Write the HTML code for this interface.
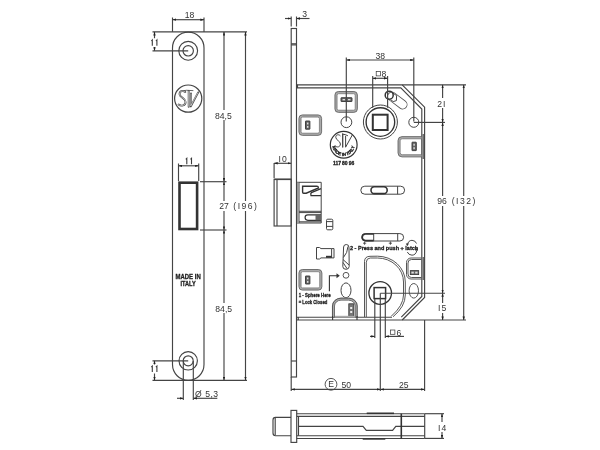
<!DOCTYPE html>
<html><head><meta charset="utf-8">
<style>
html,body{margin:0;padding:0;background:#fff;width:600px;height:450px;overflow:hidden}
svg{display:block;will-change:transform}
text{font-family:"Liberation Sans",sans-serif;fill:#333}
.d{font-size:8.6px}
.b{font-weight:bold;fill:#222;stroke:#222;stroke-width:0.3}
</style></head><body>
<svg width="600" height="450" viewBox="0 0 600 450">
<defs>
<marker id="a" viewBox="0 0 6 4" refX="6" refY="2" markerWidth="3.6" markerHeight="2.5" orient="auto-start-reverse" markerUnits="userSpaceOnUse"><path d="M0,0 L6,2 L0,4 Z" fill="#222"/></marker>
</defs>
<rect width="600" height="450" fill="#fff"/>

<!-- ============ LEFT FACEPLATE VIEW ============ -->
<g fill="none" stroke="#444" stroke-width="1.15">
  <path d="M172.5,47.9 A15.75,15.75 0 0 1 204,47.9 L204,364.6 A15.75,15.75 0 0 1 172.5,364.6 Z"/>
  <circle cx="188.2" cy="50.8" r="9.4"/>
  <circle cx="188.2" cy="50.8" r="5.2"/>
  <circle cx="188.2" cy="360.8" r="9.2"/>
  <circle cx="188.2" cy="360.8" r="5"/>
  <circle cx="188.2" cy="98.6" r="13.6" stroke-width="1.2"/>
</g>
<rect x="179.5" y="182.7" width="17.6" height="46.3" fill="none" stroke="#333" stroke-width="2.6"/>
<g fill="none" stroke-linecap="round" stroke-linejoin="round">
  <g stroke="#4a4a4a" stroke-width="1.9">
    <path d="M185.3,92 C183.5,90.3 179.2,90.8 179.6,94.4 C180,97.6 185.6,98.2 185.6,102 C185.6,105.6 181,106.6 178.6,104.6"/>
    <path d="M188.7,91 V106.8"/>
    <path d="M191,93.5 L190.8,106.4 L198.2,92.4"/>
  </g>
  <path d="M180.6,91.2 Q186,89.6 193,90.6" stroke="#555" stroke-width="0.9"/>
  <g stroke="#fff" stroke-width="0.6">
    <path d="M185.3,92 C183.5,90.3 179.2,90.8 179.6,94.4 C180,97.6 185.6,98.2 185.6,102 C185.6,105.6 181,106.6 178.6,104.6"/>
    <path d="M188.7,91.5 V106.3"/>
    <path d="M191,94 L190.8,105.9 L197.8,92.8"/>
  </g>
</g>
<text class="b" x="175.5" y="278.9" font-size="7" stroke-width="0.35" textLength="25.2" lengthAdjust="spacingAndGlyphs">MADE IN</text>
<text class="b" x="180.5" y="285.7" font-size="7" stroke-width="0.35" textLength="15.2" lengthAdjust="spacingAndGlyphs">ITALY</text>

<!-- dims left -->
<g fill="none" stroke="#444" stroke-width="1.15">
  <line x1="152.5" y1="31.9" x2="247" y2="31.9"/>
  <line x1="152.5" y1="380.3" x2="247" y2="380.3"/>
  <line x1="172.5" y1="31.9" x2="172.5" y2="17.5"/>
  <line x1="204" y1="31.9" x2="204" y2="17.5"/>
  <line x1="172.5" y1="19.7" x2="204" y2="19.7" marker-start="url(#a)" marker-end="url(#a)"/>
  <line x1="152.5" y1="50.8" x2="188.2" y2="50.8"/>
  <line x1="154.5" y1="31.9" x2="154.5" y2="50.8" marker-start="url(#a)" marker-end="url(#a)"/>
  <line x1="152.5" y1="360.8" x2="188.2" y2="360.8"/>
  <line x1="154.5" y1="360.8" x2="154.5" y2="380.3" marker-start="url(#a)" marker-end="url(#a)"/>
  <line x1="224" y1="31.9" x2="224" y2="181.7" marker-start="url(#a)" marker-end="url(#a)"/>
  <line x1="224" y1="181.7" x2="224" y2="230" marker-start="url(#a)" marker-end="url(#a)"/>
  <line x1="224" y1="230" x2="224" y2="380.3" marker-start="url(#a)" marker-end="url(#a)"/>
  <line x1="245.5" y1="31.9" x2="245.5" y2="380.3" marker-start="url(#a)" marker-end="url(#a)"/>
  <line x1="200" y1="181.7" x2="226.5" y2="181.7"/>
  <line x1="200" y1="230" x2="226.5" y2="230"/>
  <line x1="178.5" y1="181" x2="178.5" y2="163.5"/>
  <line x1="198.7" y1="181" x2="198.7" y2="163.5"/>
  <line x1="178.5" y1="165.8" x2="198.7" y2="165.8" marker-start="url(#a)" marker-end="url(#a)"/>
  <line x1="183.3" y1="361" x2="183.3" y2="400"/>
  <line x1="193.3" y1="361" x2="193.3" y2="400"/>
  <line x1="177" y1="398.3" x2="183.3" y2="398.3" marker-end="url(#a)"/>
  <line x1="217.3" y1="398.3" x2="193.3" y2="398.3" marker-end="url(#a)"/>
</g>
<g class="d">
  <rect x="150" y="38.2" width="9" height="8.8" fill="#fff"/>
  <text x="189.5" y="18" text-anchor="middle">18</text>
  <rect x="214" y="110" width="20" height="10" fill="#fff"/>
  <text x="223.4" y="118.5" text-anchor="middle">84,5</text>
  <rect x="217" y="201" width="42" height="10" fill="#fff"/>
  <text x="224" y="208.9" text-anchor="middle">27</text>
  <text x="245.9" y="208.9" text-anchor="middle" letter-spacing="1.5">(I96)</text>
  <rect x="214" y="303" width="20" height="10" fill="#fff"/>
  <text x="223.7" y="311.5" text-anchor="middle">84,5</text>
  <rect x="150" y="364.5" width="9" height="9" fill="#fff"/>
  <text x="195" y="397">Ø</text>
  <text x="205.3" y="397" letter-spacing="0.4">5,3</text>
</g>

<path d="M151.3,41.0 L152.3,39.9 V45.8 M155.9,41.0 L156.9,39.9 V45.8" fill="none" stroke="#3a3a3a" stroke-width="1.1"/>
<path d="M151.3,367.2 L152.3,366.1 V372.1 M155.9,367.2 L156.9,366.1 V372.1" fill="none" stroke="#3a3a3a" stroke-width="1.1"/>
<path d="M185.8,159.4 L186.8,158.3 V164.3 M190.5,159.4 L191.5,158.3 V164.3" fill="none" stroke="#3a3a3a" stroke-width="1.1"/>
<!-- ============ MIDDLE: SIDE VIEW ============ -->
<!-- faceplate side -->
<g fill="none" stroke="#444" stroke-width="1.15">
  <rect x="291.2" y="28.5" width="5.3" height="348.5"/>
  <line x1="291.2" y1="43.8" x2="296.5" y2="43.8"/>
  <line x1="291.2" y1="44.9" x2="296.5" y2="44.9"/>
  <line x1="291.2" y1="361" x2="296.5" y2="361"/>
</g>
<!-- latch protruding -->
<g fill="none" stroke="#444" stroke-width="1.15">
  <rect x="274.1" y="179.2" width="17.1" height="46.8"/>
  <line x1="277" y1="179.2" x2="277" y2="226"/>
  <line x1="274.1" y1="179.4" x2="291.2" y2="179.4" stroke-width="1.4"/>
</g>
<!-- lock body outline -->
<g fill="none" stroke="#444" stroke-width="1.15">
  <line x1="296.5" y1="84.8" x2="466" y2="84.8"/>
  <line x1="296.5" y1="320" x2="466" y2="320"/>
  <path d="M402.2,84.8 L424.6,107.2 L424.6,297.4 L402.2,320"/>
  <path d="M297.5,84.8 L297.5,87.9 L400.8,87.9 L421.8,109 L421.8,296.5 L401.3,317.2"/>
  <line x1="296.5" y1="317.2" x2="392" y2="317.2"/>
  <line x1="423.2" y1="134" x2="423.2" y2="159"/>
  <line x1="423.2" y1="257" x2="423.2" y2="280"/>
</g>
<!-- upper rounded rects -->
<g fill="none">
  <rect x="336.0" y="92.6" width="20.3" height="18.7" rx="2.5" stroke="#aaa" stroke-width="2"/>
  <rect x="334.9" y="91.5" width="22.5" height="20.9" rx="3.5" stroke="#555" stroke-width="0.8"/>
  <rect x="337.1" y="93.7" width="18.1" height="16.5" rx="1.5" stroke="#666" stroke-width="0.7"/>
  <rect x="300.0" y="116.0" width="20.5" height="18.3" rx="2.5" stroke="#aaa" stroke-width="2"/>
  <rect x="298.9" y="114.9" width="22.7" height="20.5" rx="3.5" stroke="#555" stroke-width="0.8"/>
  <rect x="301.1" y="117.1" width="18.3" height="16.1" rx="1.5" stroke="#666" stroke-width="0.7"/>
  <rect x="300.0" y="270.6" width="20.8" height="18.4" rx="2.5" stroke="#aaa" stroke-width="2"/>
  <rect x="298.9" y="269.5" width="23.0" height="20.6" rx="3.5" stroke="#555" stroke-width="0.8"/>
  <rect x="301.1" y="271.7" width="18.6" height="16.2" rx="1.5" stroke="#666" stroke-width="0.7"/>
</g>
<g fill="none">
  <path d="M421.5,137.7 H402 A3,3 0 0 0 399,140.7 V152.8 A3,3 0 0 0 402,155.8 H421.5" stroke="#aaa" stroke-width="2"/>
  <path d="M421.5,136.6 H402 A4,4 0 0 0 398,140.6 V152.9 A4,4 0 0 0 402,156.9 H421.5" stroke="#555" stroke-width="0.8"/>
  <path d="M421.5,138.8 H402.3 A2,2 0 0 0 400.2,140.8 V152.7 A2,2 0 0 0 402.3,154.7 H421.5" stroke="#666" stroke-width="0.7"/>
</g>
<g fill="#666" stroke="#333" stroke-width="0.9">
  <rect x="341" y="97.7" width="11" height="3.8" rx="0.3"/>
  <rect x="305.5" y="121" width="4.4" height="8.2" rx="0.3"/>
  <rect x="412" y="142.2" width="4.3" height="8.4" rx="0.3"/>
  <rect x="305.5" y="276" width="4.4" height="8" rx="0.3"/>
</g>
<g fill="#ddd">
  <rect x="342.6" y="99" width="2.4" height="1.3"/><rect x="348" y="99" width="2.4" height="1.3"/>
  <rect x="307" y="122.6" width="1.4" height="1.8"/><rect x="307" y="126" width="1.4" height="1.8"/>
  <rect x="413.4" y="143.8" width="1.4" height="1.9"/><rect x="413.4" y="147.2" width="1.4" height="1.9"/>
  <rect x="307" y="277.5" width="1.4" height="1.8"/><rect x="307" y="281" width="1.4" height="1.8"/>
</g>
<!-- holes -->
<g fill="none" stroke="#444" stroke-width="1">
  <circle cx="346.4" cy="122.2" r="5.4"/>
  <circle cx="413.8" cy="122.3" r="5"/>
</g>
<!-- spindle -->
<g fill="none" stroke="#444">
  <circle cx="380.4" cy="122" r="17" stroke-width="1"/>
  <circle cx="380.4" cy="122" r="14.3" stroke-width="1.35" stroke="#333"/>
  <rect x="372.8" y="114.7" width="14.8" height="15.3" stroke-width="2" stroke="#333"/>
</g>
<!-- lever top -->
<line x1="392" y1="96.5" x2="402.7" y2="104.6" stroke="#555" stroke-width="9.6" stroke-linecap="round"/>
<line x1="392" y1="96.5" x2="402.7" y2="104.6" stroke="#fff" stroke-width="7.9" stroke-linecap="round"/>
<path d="M392.6,92.8 L396.6,95.6 L396.4,100.6 L393.2,101.6 L390.6,99.6" fill="none" stroke="#444" stroke-width="1"/>
<circle cx="389.2" cy="95.2" r="4" fill="none" stroke="#333" stroke-width="1.5"/>
<!-- SIV logo in lock -->
<circle cx="343.7" cy="144.8" r="13.4" fill="none" stroke="#333" stroke-width="1.2"/>
<g fill="none" stroke="#444" stroke-width="1" stroke-linecap="round">
  <path d="M340.2,135.6 C339,134.1 335.6,134.3 335.8,137.4 C336,140.4 340.4,140.9 340.4,144 C340.4,147.1 337,147.7 335.6,146.3"/>
  <path d="M342.7,133.8 V147" stroke-width="1.3"/>
  <path d="M342.7,134.2 Q345.5,134.2 347.6,135.6"/>
  <path d="M345.6,136.2 L345.6,147.2 L352.2,135.2"/>
</g>
<path id="arcb" d="M332.4,144.9 A11.1,11.1 0 0 0 354.6,144.9" fill="none"/>
<text class="b" font-size="4.4" letter-spacing="0"><textPath href="#arcb" startOffset="50%" text-anchor="middle" textLength="32" lengthAdjust="spacingAndGlyphs">MADE IN ITALY</textPath></text>
<text class="b" x="343.6" y="165.1" text-anchor="middle" font-size="5" letter-spacing="-0.1">117 80 96</text>

<!-- latch block inside lock -->
<g fill="none" stroke="#444" stroke-width="1">
  <path d="M296.8,182.3 H321.2 V223 H296.8"/>
  <line x1="299" y1="182.3" x2="299" y2="223"/>
  <line x1="299" y1="211.3" x2="321.2" y2="211.3"/>
  <line x1="299" y1="212.6" x2="321.2" y2="212.6"/>
  <line x1="299" y1="221.8" x2="321.2" y2="221.8"/>
</g>
<rect x="297" y="182.5" width="2" height="40.3" fill="#999"/>
<path d="M302.6,186.3 H316.8 Q318.4,186.3 318.4,188 L306.2,193.2 H303.6 Q302.6,193.2 302.6,192 Z" fill="none" stroke="#333" stroke-width="1.4"/>
<path d="M321,188.6 L311.4,192.6 Q310.4,193.2 311,195.6 H321" fill="none" stroke="#333" stroke-width="1.3"/>
<path d="M321,214.9 H307.8 A2.7,2.7 0 0 0 307.8,220.3 H321" fill="none" stroke="#333" stroke-width="1.2"/>
<rect x="315.5" y="214.9" width="5.5" height="5.4" fill="#666"/>
<rect x="326.5" y="219.2" width="6.3" height="10.6" rx="1.2" fill="none" stroke="#444" stroke-width="1"/>
<line x1="326.5" y1="221.6" x2="332.8" y2="221.6" stroke="#444" stroke-width="1"/>
<line x1="326.5" y1="226.4" x2="332.8" y2="226.4" stroke="#444" stroke-width="1"/>

<!-- slots -->
<g fill="none" stroke="#444" stroke-width="1">
  <rect x="360.8" y="186.2" width="43.8" height="8" rx="4"/>
  <line x1="397.6" y1="186.2" x2="397.6" y2="194.2"/>
  <rect x="361.8" y="233.6" width="41.8" height="7.4" rx="3.7"/>
  <line x1="373.7" y1="233.6" x2="373.7" y2="241"/>
  <line x1="397.7" y1="233.6" x2="397.7" y2="241"/>
</g>
<rect x="371" y="186.8" width="16.2" height="6.8" rx="3.4" fill="none" stroke="#333" stroke-width="1.6"/>
<path d="M373.7,234 H365.5 A3.3,3.3 0 0 0 365.5,240.6 H373.7" fill="none" stroke="#333" stroke-width="1.6"/>

<!-- press text -->
<text class="b" x="350" y="249.8" font-size="5.9" stroke-width="0.6" textLength="68.2" lengthAdjust="spacingAndGlyphs">2 - Press and push + latch</text>
<g stroke="#333" stroke-width="0.8">
  <line x1="364.6" y1="241.5" x2="364.6" y2="244.8"/><line x1="363" y1="243.2" x2="366.2" y2="243.2"/>
  <line x1="390.4" y1="241.5" x2="390.4" y2="244.8"/><line x1="388.8" y1="243.2" x2="392" y2="243.2"/>
</g>
<g fill="none" stroke="#333" stroke-width="0.9">
  <path d="M407.5,245 Q408,240.5 412,240.3 Q415.5,240.5 416.5,243.5"/>
  <path d="M416.8,250.5 Q416,255 412,255.2 Q408.5,255 407.3,252"/>
</g>
<path d="M405.8,243.5 L408.8,243.6 L407.3,246.3 Z" fill="#333"/>
<path d="M418,250.5 L415.2,250.4 L416.7,247.8 Z" fill="#333"/>

<!-- connector + lever -->
<g fill="none" stroke="#444" stroke-width="1">
  <path d="M316.5,247.5 H319.5 L321,248.6 H331.6 V257.9 H321 L319.5,259 H316.5 Z"/>
  <line x1="331.6" y1="248.6" x2="334" y2="248.6"/>
  <line x1="331.6" y1="257.9" x2="334" y2="257.9"/>
  <line x1="334" y1="248.6" x2="334" y2="257.9"/>
  <path d="M343.6,247 Q343.8,244.5 346.3,244.5 Q349,244.5 349,247.5 L349.2,266.5 Q349,269.3 346,269.3 Q342.8,269.3 342.8,266.5 Z"/>
  <path d="M343.4,257.5 Q347.5,253 348,246.5"/>
  <line x1="343" y1="259.5" x2="349" y2="265"/>
  <line x1="343" y1="262.5" x2="347" y2="268.5"/>
</g>
<rect x="326" y="255.8" width="5.6" height="2" fill="#333"/>

<!-- lower left rounded rect -->

<text class="b" x="298.7" y="296.9" font-size="5.7" stroke-width="0.7" textLength="32" lengthAdjust="spacingAndGlyphs">1 - Sphere Here</text>
<text class="b" x="298.7" y="303.9" font-size="5.7" stroke-width="0.7" textLength="28.6" lengthAdjust="spacingAndGlyphs">= Lock Closed</text>
<path d="M329.4,291.2 V275.8 H337.5" fill="none" stroke="#333" stroke-width="1.1"/>
<path d="M336.5,273.3 L339.8,275.8 L336.5,278.3 Z" fill="#333"/>
<circle cx="346" cy="275.3" r="2.9" fill="none" stroke="#444" stroke-width="0.9"/>
<ellipse cx="346" cy="290.3" rx="5" ry="7.4" fill="none" stroke="#444" stroke-width="1"/>
<!-- arch -->
<path d="M333.2,317 V306 A8,7.3 0 0 1 341,298.8 H348.5 A8,7.3 0 0 1 356.5,306 V317" fill="none" stroke="#aaa" stroke-width="2.6"/>
<path d="M332.5,317 V306 A8.5,7.8 0 0 1 341,298.2 H348.5 A8.5,7.8 0 0 1 357.2,306 V317" fill="none" stroke="#444" stroke-width="0.8"/>
<path d="M334.5,317 V306 A6.5,5.8 0 0 1 341,300.2 H348.5 A6.5,5.8 0 0 1 355.2,306 V317" fill="none" stroke="#555" stroke-width="0.8"/>
<rect x="348.8" y="303.8" width="5" height="12.5" fill="#777" stroke="#333" stroke-width="0.8"/>
<rect x="350.2" y="307" width="2" height="2" fill="#eee"/>
<rect x="350.2" y="311" width="2" height="2" fill="#eee"/>
<rect x="335" y="315.8" width="20" height="1.8" fill="#aaa"/>

<g stroke="#333" stroke-width="1.1">
  <line x1="298.2" y1="317.2" x2="298.2" y2="320"/>
  <line x1="332.6" y1="316" x2="332.6" y2="320"/>
  <line x1="357" y1="316" x2="357" y2="320"/>
</g>
<!-- cam -->
<g fill="none" stroke="#444" stroke-width="0.9">
  <path d="M364.5,317 V261.5 Q364.6,256.4 370,256.3 L377.5,256.2 A27.8,25.8 0 0 1 405.3,282 V295 Q405.3,306.5 393,316.8"/>
  <path d="M366.3,317 V262.2 Q366.4,258.1 370.3,258 L377.5,258 A26,24 0 0 1 403.5,282 V295 Q403.5,305.5 391.2,316.3"/>
</g>
<!-- small spindle -->
<circle cx="380.2" cy="293" r="11.3" fill="none" stroke="#333" stroke-width="1.3"/>
<rect x="374.1" y="287.6" width="11.5" height="11" fill="none" stroke="#333" stroke-width="1.5"/>
<!-- right lower element -->
<g fill="none" stroke="#555" stroke-width="1">
  <path d="M421.5,258 H411 A4.5,4.5 0 0 0 406.5,262.5 V274.5 A4.5,4.5 0 0 0 411,279 H421.5"/>
  <path d="M421.5,259.5 H411.5 A3.5,3.5 0 0 0 408,263 V274 A3.5,3.5 0 0 0 411.5,277.5 H421.5"/>
  <ellipse cx="413.8" cy="290.8" rx="4.7" ry="7.3"/>
</g>
<rect x="410.3" y="270.6" width="8.4" height="4" fill="#666" stroke="#333" stroke-width="0.8"/>
<rect x="411.4" y="271.7" width="2.4" height="1.8" fill="#ddd"/><rect x="415.2" y="271.7" width="2.4" height="1.8" fill="#ddd"/>

<!-- ============ MIDDLE DIMS ============ -->
<g fill="none" stroke="#444" stroke-width="1.15">
  <line x1="291.2" y1="26.5" x2="291.2" y2="16.5"/>
  <line x1="296.5" y1="26.5" x2="296.5" y2="16.5"/>
  <line x1="285" y1="18.5" x2="291.2" y2="18.5" marker-end="url(#a)"/>
  <line x1="309.5" y1="18.5" x2="296.5" y2="18.5" marker-end="url(#a)"/>
  <line x1="274.1" y1="178" x2="274.1" y2="163"/>
  <line x1="274.1" y1="163.3" x2="291.2" y2="163.3" marker-start="url(#a)" marker-end="url(#a)"/>
  <line x1="346.3" y1="121.5" x2="346.3" y2="57.5"/>
  <line x1="413.8" y1="121.5" x2="413.8" y2="57.5"/>
  <line x1="346.3" y1="60" x2="413.8" y2="60" marker-start="url(#a)" marker-end="url(#a)"/>
  <line x1="372.7" y1="107.8" x2="372.7" y2="76"/>
  <line x1="387.6" y1="107.8" x2="387.6" y2="76"/>
  <line x1="372.7" y1="78.3" x2="387.6" y2="78.3" marker-start="url(#a)" marker-end="url(#a)"/>
  <line x1="413.8" y1="122.4" x2="445" y2="122.4"/>
  <line x1="380.3" y1="293.2" x2="445" y2="293.2"/>
  <line x1="442.6" y1="84.8" x2="442.6" y2="122.4" marker-start="url(#a)" marker-end="url(#a)"/>
  <line x1="442.6" y1="122.4" x2="442.6" y2="293.2" marker-start="url(#a)" marker-end="url(#a)"/>
  <line x1="442.6" y1="293.2" x2="442.6" y2="320" marker-start="url(#a)" marker-end="url(#a)"/>
  <line x1="463.7" y1="84.8" x2="463.7" y2="320" marker-start="url(#a)" marker-end="url(#a)"/>
  <line x1="374.8" y1="299" x2="374.8" y2="338"/>
  <line x1="385.3" y1="299" x2="385.3" y2="338"/>
  <line x1="380.3" y1="293.2" x2="380.3" y2="391"/>
  <line x1="424.6" y1="320" x2="424.6" y2="391"/>
  <line x1="291.2" y1="377" x2="291.2" y2="391"/>
  <line x1="370" y1="336.4" x2="374.8" y2="336.4" marker-end="url(#a)"/>
  <line x1="404" y1="336.4" x2="385.3" y2="336.4" marker-end="url(#a)"/>
  <line x1="291.2" y1="389.4" x2="380.3" y2="389.4" marker-start="url(#a)" marker-end="url(#a)"/>
  <line x1="380.3" y1="389.4" x2="424.6" y2="389.4" marker-start="url(#a)" marker-end="url(#a)"/>
</g>
<g class="d">
  <text x="302.2" y="16.5">3</text>
  <text x="283.1" y="161.9" text-anchor="middle" letter-spacing="1">I0</text>
  <text x="380.3" y="59" text-anchor="middle">38</text>
  <rect x="376.2" y="71.6" width="4.3" height="4.3" fill="none" stroke="#333" stroke-width="0.7"/>
  <text x="381.6" y="77">8</text>
  <rect x="436" y="98" width="12" height="10" fill="#fff"/>
  <text x="441.8" y="106.5" text-anchor="middle" letter-spacing="1">2I</text>
  <rect x="435" y="196" width="42" height="10" fill="#fff"/>
  <text x="442.1" y="204.4" text-anchor="middle">96</text>
  <text x="464.3" y="204.4" text-anchor="middle" letter-spacing="1.5">(I32)</text>
  <rect x="436" y="303" width="12" height="10" fill="#fff"/>
  <text x="442.6" y="311.3" text-anchor="middle" letter-spacing="1">I5</text>
  <rect x="390.6" y="330" width="4.3" height="4.3" fill="none" stroke="#333" stroke-width="0.7"/>
  <text x="396.6" y="335.6">6</text>
  <circle cx="331" cy="384.3" r="5.9" fill="none" stroke="#444" stroke-width="0.9"/>
  <text x="331.1" y="387.4" text-anchor="middle">E</text>
  <text x="341.6" y="388.3">50</text>
  <text x="403.8" y="388" text-anchor="middle">25</text>
</g>

<!-- ============ BOTTOM VIEW ============ -->
<g fill="none" stroke="#444" stroke-width="1.15">
  <path d="M291,417.3 H275.5 Q273,417.3 273,420 V433 Q273,435.7 275.5,435.7 H291"/>
  <line x1="275.2" y1="418" x2="275.2" y2="435"/>
  <rect x="291" y="410.4" width="5.7" height="32"/>
  <line x1="296.7" y1="413.7" x2="424.7" y2="413.7"/>
  <line x1="296.7" y1="416.3" x2="424.7" y2="416.3"/>
  <path d="M298.5,426.3 H363 L366.3,430.4 H392.6 L395.8,426.3 H424.7"/>
  <line x1="296.7" y1="435.7" x2="424.7" y2="435.7"/>
  <line x1="296.7" y1="438.5" x2="424.7" y2="438.5"/>
  <line x1="298.5" y1="416.3" x2="298.5" y2="435.7"/>
  <line x1="424.7" y1="413.7" x2="424.7" y2="438.5"/>
  <line x1="424.7" y1="413.7" x2="444" y2="413.7"/>
  <line x1="424.7" y1="438.4" x2="444" y2="438.4"/>
  <line x1="442" y1="413.7" x2="442" y2="438.4" marker-start="url(#a)" marker-end="url(#a)"/>
</g>
<line x1="401.3" y1="413.7" x2="401.3" y2="438.5" stroke="#333" stroke-width="1.6"/>
<line x1="366.7" y1="413.3" x2="394" y2="413.3" stroke="#333" stroke-width="1.6"/>
<line x1="362.7" y1="438.9" x2="385.3" y2="438.9" stroke="#333" stroke-width="1.6"/>
<g class="d">
  <rect x="437" y="422" width="11" height="10" fill="#fff"/>
  <text x="442.6" y="430.8" text-anchor="middle" letter-spacing="1">I4</text>
</g>

</svg>
</body></html>
